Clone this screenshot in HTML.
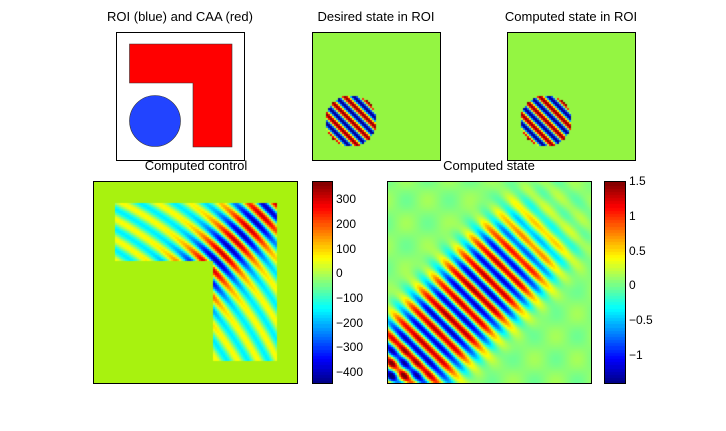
<!DOCTYPE html>
<html><head><meta charset="utf-8">
<style>
body{margin:0;background:#fff;width:726px;height:431px;overflow:hidden;position:relative;font-family:"Liberation Sans",sans-serif;}
.t{position:absolute;font-size:13px;color:#000;white-space:nowrap;transform:translateX(-50%);}
canvas{position:absolute;}
.ax{position:absolute;border:1px solid #000;box-sizing:border-box;}
.tk{position:absolute;font-size:12px;color:#000;}
</style></head><body>
<div class="t" style="left:180px;top:9px">ROI (blue) and CAA (red)</div>
<div class="t" style="left:376px;top:9px">Desired state in ROI</div>
<div class="t" style="left:571px;top:9px">Computed state in ROI</div>
<div class="t" style="left:196px;top:158px">Computed control</div>
<div class="t" style="left:489px;top:158px">Computed state</div>

<svg style="position:absolute;left:116px;top:32px" width="129" height="129">
<rect x="0.5" y="0.5" width="128" height="128" fill="#fff" stroke="#000"/>
<path d="M13.5 12 H116 V115 H77 V51 H13.5 Z" fill="#ff0000" stroke="#333" stroke-width="0.6"/>
<circle cx="39" cy="89" r="25.5" fill="#2244ff" stroke="#333" stroke-width="0.6"/>
</svg>

<canvas id="c1" style="left:312px;top:32px" width="128" height="128"></canvas>
<div class="ax" style="left:312px;top:32px;width:129px;height:129px"></div>
<canvas id="c2" style="left:507px;top:32px" width="128" height="128"></canvas>
<div class="ax" style="left:507px;top:32px;width:129px;height:129px"></div>

<canvas id="c3" style="left:93px;top:181px" width="204" height="202"></canvas>
<div class="ax" style="left:93px;top:181px;width:205px;height:203px"></div>
<canvas id="cb1" style="left:312px;top:181px" width="20" height="202"></canvas>
<div class="ax" style="left:312px;top:181px;width:21px;height:203px"></div>

<canvas id="c4" style="left:387px;top:181px" width="204" height="202"></canvas>
<div class="ax" style="left:387px;top:181px;width:205px;height:203px"></div>
<canvas id="cb2" style="left:604px;top:181px" width="21" height="202"></canvas>
<div class="ax" style="left:604px;top:181px;width:22px;height:203px"></div>
<div id="ticks"></div>
<script>
const ctrlTicks=[300,200,100,0,-100,-200,-300,-400];
const ctrlRange=[-445,375];
const stateTicks=[1.5,1,0.5,0,-0.5,-1];
const stateRange=[-1.4,1.5];
const roiWavelength=[0.1];
const stateWavelength=[0.09];

function cl(v){return Math.max(0,Math.min(1,v));}
function jet(t){t=cl(t);return [cl(1.5-Math.abs(4*t-3)),cl(1.5-Math.abs(4*t-2)),cl(1.5-Math.abs(4*t-1))].map(v=>Math.round(v*255));}
function col(c){return 'rgb('+c[0]+','+c[1]+','+c[2]+')';}
function heat(id,w,h,cell,fn){
  const ctx=document.getElementById(id).getContext('2d');
  for(let y=0;y<h;y+=cell)for(let x=0;x<w;x+=cell){
    const c=fn((x+cell/2)/w,(y+cell/2)/h);
    ctx.fillStyle=typeof c==='string'?c:col(c);ctx.fillRect(x,y,cell,cell);
  }
}
const K=2*Math.PI/(Math.SQRT2*roiWavelength[0]);
function roi(X,Y){
  const dx=X-0.305,dy=Y-0.695;
  if(dx*dx+dy*dy>0.2*0.2) return '#94f542';
  return jet(0.5+0.5*Math.sin(K*(X-Y)));
}
heat('c1',128,128,2,roi);
heat('c2',128,128,2,roi);

const K2=2*Math.PI/(Math.SQRT2*stateWavelength[0]);
function ctrl(X,Y){
  const inL=(X>0.108&&X<0.902&&Y>0.104&&Y<0.397)||(X>0.593&&X<0.902&&Y>0.104&&Y<0.892);
  if(!inL) return '#a8f20f';
  const d=X+Y-1;
  const A=110+250*Math.exp(-Math.pow(d/0.2,2));
  const v=A*Math.sin(K2*(X-Y)+10*d*d+0.6)-40;
  return jet((v-ctrlRange[0])/(ctrlRange[1]-ctrlRange[0]));
}
heat('c3',204,202,2,ctrl);

function state(X,Y){
  const d=X+Y-1, s=X-Y;
  let A=1.25*Math.exp(-Math.pow(d/0.32,4));
  A*= s<0.05?1:Math.exp(-Math.pow((s-0.05)/0.45,2));
  let v=A*Math.sin(K2*(X-Y)+1.0);
  v+=0.08*Math.sin(30*X+5)*Math.sin(28*Y+2)+0.08;
  const corner=Math.exp(-(X*X+(1-Y)*(1-Y))/0.02);
  v+=0.6*corner*Math.sin(K2*(X+Y));
  return jet((v-stateRange[0])/(stateRange[1]-stateRange[0]));
}
heat('c4',204,202,2,state);

function bar(id,w,h){
  const ctx=document.getElementById(id).getContext('2d');
  for(let i=0;i<64;i++){ctx.fillStyle=col(jet((i+0.5)/64));const y0=h-(i+1)*h/64;ctx.fillRect(0,Math.floor(y0),w,Math.ceil(h/64)+1);}
}
bar('cb1',20,202);bar('cb2',21,202);

const tk=document.getElementById('ticks');
function ticks(arr,range,left,top,h,name){
  arr.forEach(v=>{
    const y=top+h-(v-range[0])/(range[1]-range[0])*h;
    const d=document.createElement('div');
    d.className='tk';
    
    
    d.style.left=left+'px';d.style.top=(y-7)+'px';
    d.textContent=(v<0?'\u2212'+Math.abs(v):String(v));
    tk.appendChild(d);
  });
}
ticks(ctrlTicks,ctrlRange,336,181,202,'control-colorbar-tick');
ticks(stateTicks,stateRange,629,181,202,'state-colorbar-tick');
</script>
</body></html>
